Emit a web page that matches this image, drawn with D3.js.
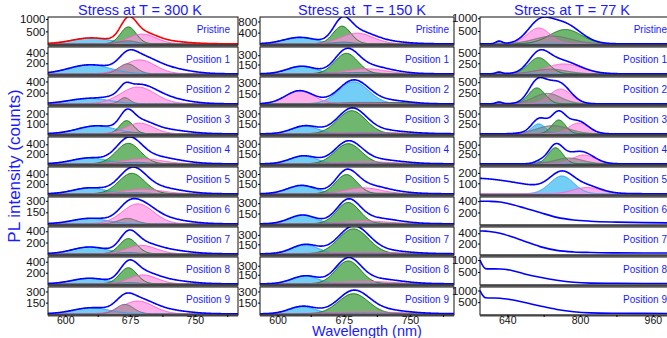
<!DOCTYPE html>
<html>
<head>
<script src="https://d3js.org/d3.v7.min.js"></script>
<style>
  body { margin: 0; background: #fff; }
  svg { display: block; font-family: Arial, "Liberation Sans", sans-serif; }
</style>
</head>
<body>
<svg></svg>
<script>
const panelNames = ["Pristine", "Position 1", "Position 2", "Position 3", "Position 4",
  "Position 5", "Position 6", "Position 7", "Position 8", "Position 9"];

// peak fits: [height (counts), centre (nm), sigma (nm)]
// ---- 300 K
const yMax300 = [1080, 510, 480, 265, 550, 550, 350, 476, 485, 360];
const yTicks300 = [[500, 1000], [200, 400], [200, 400], [100, 200], [200, 400],
  [200, 400], [150, 300], [200, 400], [200, 400], [150, 300]];
const blue300 = [[237, 630, 22], [170, 628, 24], [95, 628, 24], [78, 636, 22], [120, 628, 20],
  [120, 628, 19], [70, 628, 20], [120, 628, 20], [100, 628, 20], [80, 630, 21]];
const green300 = [[680, 673, 9], null, null, [130, 671, 8], [420, 673, 14],
  [420, 677, 15], null, [270, 673, 10], [290, 673, 10], null];
const pink300 = [[390, 689, 16], [265, 686, 18], [300, 684, 20], [105, 686, 16], [100, 690, 22],
  [92, 690, 22], [260, 684, 18], [150, 688, 17], [160, 690, 16], [171, 684, 18]];
const gray300 = [[120, 672, 10], [190, 672, 10], [110, 669, 6], [15, 675, 10], [30, 680, 15],
  [20, 680, 15], [70, 672, 10], [20, 675, 10], [20, 675, 10], [126, 669, 10]];
const rest300 = [[100, 715, 25], [110, 715, 25], [90, 715, 25], [40, 715, 25], [80, 715, 25],
  [80, 715, 25], [60, 715, 25], [70, 715, 25], [70, 715, 25], [50, 715, 25]];

// ---- 150 K
const yMax150 = [960, 433, 390, 395, 400, 405, 390, 425, 445, 360];
const yTicks150 = [[400, 800], [150, 300], [150, 300], [150, 300], [150, 300],
  [150, 300], [150, 300], [150, 300], [150, 300], [150, 300]];
const blue150 = [[230, 625, 18], [122, 627, 16], [320, 686, 17], [112, 631, 15], [115, 629, 15],
  [125, 627, 16], [125, 628, 15], [140, 631, 15], [128, 631, 15], [95, 628, 15]];
const green150 = [[631, 673, 10], [330, 678, 13], [20, 735, 18], [340, 684, 16], [300, 680, 15],
  [290, 678, 12], [310, 680, 13], [395, 686, 17], [380, 680, 14], [270, 686, 17]];
const pink150 = [[380, 690, 18], [80, 700, 22], [190, 625, 16], [20, 700, 40], [30, 700, 30],
  [90, 697, 20], [40, 700, 25], [25, 700, 40], [40, 700, 30], [25, 700, 40]];
const gray150 = [[60, 675, 10], [20, 690, 20], [20, 700, 30], [10, 700, 40], [10, 700, 40],
  [10, 700, 40], [10, 700, 40], [10, 700, 40], [10, 700, 40], [10, 700, 40]];
const rest150 = [[100, 715, 25], [40, 715, 25], [20, 715, 25], [30, 715, 25], [30, 715, 25],
  [40, 715, 25], [40, 715, 25], [30, 715, 25], [40, 715, 25], [30, 715, 25]];

// ---- 77 K
const yMax77 = [1050, 640, 620, 660, 700, 256, 474, 522, 1130, 1150];
const yTicks77 = [[500, 1000], [250, 500], [250, 500], [250, 500], [250, 500],
  [100, 200], [200, 400], [200, 400], [500, 1000], [500, 1000]];
const blue77 = [[100, 622, 7], [40, 622, 7], [40, 622, 7], [243, 709, 15], [60, 712, 12],
  [170, 760, 26], null, null, null, null];
const green77 = [[560, 768, 35], [385, 709, 22], [367, 705, 18], [340, 753, 15], [420, 746, 16],
  null, null, null, null, null];
const pink77 = [[620, 709, 25], [235, 764, 40], [340, 757, 24], [265, 797, 22], [230, 808, 25],
  [60, 815, 30], null, null, null, null];
const gray77 = [[300, 740, 40], [110, 735, 35], [240, 728, 30], [200, 740, 35], [150, 775, 30],
  null, null, null, null, null];
const rest77 = [null, null, null, null, null, [150, 560, 120], null, null, null, null];
// measured spectra without fit (positions 6-9), sampled at decayWl
const decayWl = [580, 585, 592, 600, 624, 650, 676, 712, 749, 786, 823, 880, 940, 1000];
const decay77 = [null, null, null, null, null, null,
  [400, 400, 400, 398, 385, 340, 284, 199, 114, 68, 46, 30, 20, 15],
  [444, 444, 442, 435, 400, 330, 250, 140, 67, 36, 25, 18, 15, 14],
  [1000, 800, 640, 630, 625, 560, 425, 275, 150, 64, 30, 20, 15, 12],
  [1000, 820, 690, 680, 670, 600, 496, 336, 187, 86, 40, 22, 16, 13]];

const compStyle = {
  blue: { fill: "#4fc1f5", op: 0.8, stroke: "#2aa7e8" },
  green: { fill: "#3f9f3f", op: 0.75, stroke: "#117a11" },
  pink: { fill: "#ff8fe4", op: 0.7, stroke: "#ff5fcf" },
  gray: { fill: "#7f7f7f", op: 0.55, stroke: "#6f6f6f" }
};
const textBlue = "#1a1aff";

const cols = [
  { title: "Stress at T = 300 K", tx: 140, x0: 48, x1: 238, dom: [580, 800], ticks: [600, 675, 750],
    minor: [637.5, 712.5, 787.5], inset: 8, yMax: yMax300, yTicks: yTicks300,
    blue: blue300, green: green300, pink: pink300, gray: gray300, rest: rest300 },
  { title: "Stress at  T = 150 K", tx: 362, x0: 260, x1: 454, dom: [580, 800], ticks: [600, 675, 750],
    minor: [637.5, 712.5, 787.5], inset: 5, yMax: yMax150, yTicks: yTicks150,
    blue: blue150, green: green150, pink: pink150, gray: gray150, rest: rest150 },
  { title: "Stress at T = 77 K", tx: 572, x0: 480, x1: 671, dom: [580, 1000], ticks: [640, 800, 960],
    minor: [720, 880], inset: 4, yMax: yMax77, yTicks: yTicks77,
    blue: blue77, green: green77, pink: pink77, gray: gray77, rest: rest77, decay: decay77 }
];

const W = 667, H = 338;
const svg = d3.select("svg").attr("width", W).attr("height", H);
const defs = svg.append("defs");
const gauss = (w, p) => p && p[0] ? p[0] * Math.exp(-0.5 * ((w - p[1]) / p[2]) ** 2) : 0;

cols.forEach((col, ci) => {
  const x = d3.scaleLinear().domain(col.dom).range([col.x0, col.x1]);
  const grid = d3.range(col.dom[0], col.dom[1] + 0.5, 1);
  const g = svg.append("g");

  svg.append("text")
    .attr("x", col.tx).attr("y", 15)
    .attr("text-anchor", "middle")
    .attr("font-size", 14.5)
    .attr("fill", textBlue)
    .style("white-space", "pre")
    .text(col.title);

  panelNames.forEach((name, i) => {
    const top = 17 + i * 30, bottom = top + 28;
    const ymax = col.yMax[i];
    const y = d3.scaleLinear().domain([-0.045 * ymax, ymax]).range([bottom, top]);
    const clipId = `clip${ci}_${i}`;
    defs.append("clipPath").attr("id", clipId).append("rect")
      .attr("x", col.x0).attr("y", top).attr("width", col.x1 - col.x0).attr("height", bottom - top);
    const pg = g.append("g").attr("clip-path", `url(#${clipId})`);

    const comps = [["blue", col.blue[i]], ["green", col.green[i]], ["pink", col.pink[i]], ["gray", col.gray[i]]]
      .filter(c => c[1] && c[1][0] > 0);

    const area = d3.area().x(d => x(d[0])).y0(bottom).y1(d => y(d[1]));
    const line = d3.line().x(d => x(d[0])).y(d => y(d[1]));

    comps.forEach(([k, p]) => {
      pg.append("path")
        .datum(grid.map(w => [w, gauss(w, p)]))
        .attr("d", area)
        .attr("fill", compStyle[k].fill)
        .attr("fill-opacity", compStyle[k].op);
    });
    comps.forEach(([k, p]) => {
      pg.append("path")
        .datum(grid.map(w => [w, gauss(w, p)]))
        .attr("d", line)
        .attr("fill", "none")
        .attr("stroke", compStyle[k].stroke)
        .attr("stroke-width", 1);
    });

    let env, envLine = line;
    if (col.decay && col.decay[i]) {
      env = decayWl.map((w, j) => [w, col.decay[i][j]]);
      envLine = d3.line().x(d => x(d[0])).y(d => y(d[1])).curve(d3.curveMonotoneX);
    } else {
      env = grid.map(w => [w, comps.reduce((s, c) => s + gauss(w, c[1]), 0) + gauss(w, col.rest[i])]);
    }
    pg.append("path")
      .datum(env)
      .attr("d", envLine)
      .attr("fill", "none")
      .attr("stroke", ci === 0 && i === 0 ? "#ff0000" : "#0000ff")
      .attr("stroke-width", 1.6);

    // frame
    g.append("rect")
      .attr("x", col.x0).attr("y", top)
      .attr("width", col.x1 - col.x0).attr("height", bottom - top)
      .attr("fill", "none").attr("stroke", "#111").attr("stroke-width", 1);
    g.append("line")
      .attr("x1", col.x0).attr("x2", col.x1)
      .attr("y1", bottom + 0.5).attr("y2", bottom + 0.5)
      .attr("stroke", "#444").attr("stroke-width", 2);

    const ay = g.append("g")
      .attr("transform", `translate(${col.x0},0)`)
      .call(d3.axisLeft(y).tickValues(col.yTicks[i]).tickFormat(d3.format("d")).tickSize(2).tickPadding(0.5));
    ay.select(".domain").remove();
    ay.attr("font-size", 11.5).attr("font-family", null);
    ay.selectAll("text").attr("fill", "#111");

    g.append("text")
      .attr("x", col.x1 - col.inset).attr("y", top + 12.5)
      .attr("text-anchor", "end")
      .attr("dominant-baseline", "central")
      .attr("font-size", 10)
      .attr("fill", textBlue)
      .text(name);
  });

  const axisY = 17 + 9 * 30 + 28;
  const ax = g.append("g")
    .attr("transform", `translate(0,${axisY})`)
    .call(d3.axisBottom(x).tickValues(col.ticks).tickSize(2).tickPadding(0));
  ax.select(".domain").remove();
  ax.attr("font-size", 10.5).attr("font-family", null);
  ax.selectAll("text").attr("fill", "#111");
  const mx = g.append("g")
    .attr("transform", `translate(0,${axisY})`)
    .call(d3.axisBottom(x).tickValues(col.minor).tickSize(2).tickFormat(""));
  mx.select(".domain").remove();
});

svg.append("text")
  .attr("transform", "translate(20,166) rotate(-90)")
  .attr("text-anchor", "middle")
  .attr("font-size", 17)
  .attr("fill", textBlue)
  .text("PL intensity (counts)");

svg.append("text")
  .attr("x", 367).attr("y", 335.5)
  .attr("text-anchor", "middle")
  .attr("font-size", 14.5)
  .attr("fill", textBlue)
  .text("Wavelength (nm)");
</script>
</body>
</html>
